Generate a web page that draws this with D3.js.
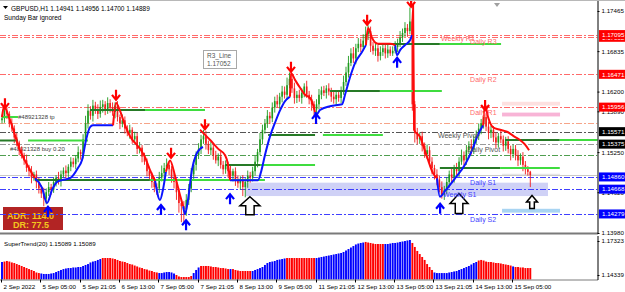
<!DOCTYPE html>
<html>
<head>
<meta charset="utf-8">
<script src="https://cdn.jsdelivr.net/npm/d3@7"></script>
<style>
  body { margin: 0; background: #fff; }
  svg { display: block; font-family: "Liberation Sans", Arial, sans-serif; }
</style>
</head>
<body>
<div id="chart"></div>
<script>
// GBPUSD H1 closes, one per bar (open = previous close)
const closes = [
  1.1578, 1.1590, 1.1585, 1.1570, 1.1562, 1.1548, 1.1540, 1.1528, 1.1520, 1.1512,
  1.1500, 1.1495, 1.1485, 1.1490, 1.1478, 1.1468, 1.1460, 1.1452, 1.1462, 1.1470,
  1.1466, 1.1478, 1.1485, 1.1480, 1.1490, 1.1496, 1.1492, 1.1502, 1.1510, 1.1506,
  1.1515, 1.1525, 1.1522, 1.1545, 1.1570, 1.1590, 1.1582, 1.1598, 1.1592, 1.1585,
  1.1596, 1.1600, 1.1590, 1.1602, 1.1595, 1.1588, 1.1598, 1.1580, 1.1570, 1.1575,
  1.1562, 1.1555, 1.1560, 1.1545, 1.1550, 1.1530, 1.1532, 1.1518, 1.1510, 1.1495,
  1.1488, 1.1478, 1.1470, 1.1468, 1.1485, 1.1492, 1.1500, 1.1505, 1.1498, 1.1485,
  1.1478, 1.1462, 1.1445, 1.1440, 1.1435, 1.1450, 1.1468, 1.1490, 1.1505, 1.1520,
  1.1530, 1.1545, 1.1550, 1.1538, 1.1528, 1.1532, 1.1520, 1.1512, 1.1518, 1.1505,
  1.1498, 1.1505, 1.1495, 1.1488, 1.1495, 1.1480, 1.1476, 1.1482, 1.1470, 1.1478,
  1.1488, 1.1485, 1.1495, 1.1510, 1.1525, 1.1545, 1.1560, 1.1570, 1.1582, 1.1578,
  1.1595, 1.1605, 1.1600, 1.1612, 1.1620, 1.1615, 1.1630, 1.1640, 1.1625, 1.1610,
  1.1615, 1.1610, 1.1618, 1.1628, 1.1615, 1.1608, 1.1600, 1.1592, 1.1600, 1.1615,
  1.1622, 1.1618, 1.1625, 1.1620, 1.1612, 1.1608, 1.1615, 1.1610, 1.1620, 1.1635,
  1.1650, 1.1665, 1.1680, 1.1672, 1.1688, 1.1695, 1.1690, 1.1700, 1.1710, 1.1715,
  1.1692, 1.1684, 1.1688, 1.1676, 1.1682, 1.1688, 1.1680, 1.1686, 1.1680, 1.1684,
  1.1690, 1.1695, 1.1705, 1.1712, 1.1720, 1.1715, 1.1730, 1.1600, 1.1555, 1.1545,
  1.1550, 1.1535, 1.1522, 1.1528, 1.1510, 1.1500, 1.1490, 1.1482, 1.1470, 1.1458,
  1.1465, 1.1478, 1.1490, 1.1485, 1.1500, 1.1495, 1.1510, 1.1520, 1.1512, 1.1528,
  1.1535, 1.1530, 1.1545, 1.1550, 1.1562, 1.1570, 1.1580, 1.1565, 1.1555, 1.1560,
  1.1548, 1.1540, 1.1550, 1.1545, 1.1535, 1.1542, 1.1530, 1.1522, 1.1530, 1.1520,
  1.1512, 1.1518, 1.1505, 1.1498, 1.14941, 1.14889
];
const firstOpen = 1.1575;

// wick lengths in pips above / below the body
const upWick = [
  6,3,5,4,8,5,7,3,6,4,9,5,8,4,6,7,5,9,6,8,
  5,7,4,9,6,5,8,4,7,6,5,9,4,8,12,10,7,9,6,8,
  10,7,5,9,6,8,5,7,4,9,6,5,8,4,7,5,9,4,6,5,
  7,5,8,6,9,12,8,10,6,5,7,4,6,5,8,9,7,10,8,6,
  9,7,10,8,5,9,6,7,5,8,6,7,5,9,4,6,8,5,7,6,
  8,6,7,9,5,10,8,7,9,6,8,7,10,6,9,8,12,10,7,9,
  6,8,7,5,9,6,7,5,8,9,6,7,5,8,6,9,5,7,8,10,
  9,11,8,10,7,9,8,10,12,9,7,6,8,5,9,7,6,8,5,7,
  9,8,10,7,9,6,22,4,5,8,6,7,5,9,6,7,5,8,6,9,
  7,8,6,9,5,8,7,9,6,8,7,10,6,9,8,7,10,6,8,7,
  6,8,5,9,6,7,8,5,7,6,8,5,7,6,5,1.5
];
const downWick = [
  5,7,8,6,5,9,6,8,5,7,6,8,9,5,10,8,7,12,9,6,
  8,5,7,6,9,5,8,6,7,5,8,6,9,7,5,8,6,9,7,8,
  6,9,7,5,8,6,10,7,9,6,8,5,9,7,6,8,7,9,5,8,
  6,9,8,10,7,6,8,5,9,8,10,12,15,25,20,10,8,6,7,9,
  6,8,7,9,6,8,7,5,9,6,8,7,10,6,9,8,7,10,14,16,
  9,8,6,7,9,5,8,6,7,9,6,8,5,7,9,6,8,5,7,9,
  8,6,9,7,5,8,10,12,6,8,7,5,9,6,8,7,9,6,8,5,
  6,8,5,7,9,6,8,5,7,9,10,6,8,9,7,6,8,7,4,4,
  4,8,5,7,6,9,5,10,15,8,7,9,6,8,7,10,8,9,8,6,
  8,6,9,7,8,6,9,5,8,7,6,9,8,7,6,9,8,7,10,8,
  7,9,8,6,9,8,7,10,6,8,9,7,10,8,6,18.9
];

// trend line, [bar index, price] vertices
const redSegments = [
  [[0,1.1580],[0.8,1.1596],[3,1.1578],[7.3,1.1528],[11.4,1.1497],[13.4,1.1484]],
  [[45.2,1.1567],[46.4,1.1602],[48,1.1590],[50.1,1.1567],[52.1,1.1550],[56.2,1.1530],[58.2,1.1517],[60.2,1.1497],[62.3,1.1480]],
  [[66.7,1.1494],[68.4,1.1512],[70.4,1.1488],[72.4,1.1458],[73.7,1.1440]],
  [[80.6,1.1560],[84.7,1.1544],[88,1.1530],[90.8,1.1520],[92,1.1505],[92.8,1.1481]],
  [[117.2,1.1612],[117.6,1.1649],[119.3,1.1638],[121.3,1.1626],[123.3,1.1615],[125.4,1.1610],[126.6,1.1599],[127.4,1.1588]],
  [[148.1,1.1693],[149,1.1720],[150.6,1.1704],[153,1.1695],[157.9,1.1695],[160,1.1693]],
  [[166.9,1.1709],[167.3,1.1755],[167.7,1.1560],[170.1,1.1549],[173,1.1517],[175.4,1.1492],[177,1.1484]],
  [[195.8,1.1567],[196.6,1.1599],[197.8,1.1580],[199.8,1.1564],[202.7,1.1560],[205.5,1.1557],[208.7,1.1549],[210.8,1.1544],[212.8,1.1537],[214.5,1.1528]]
];
const blueSegments = [
  [[13.4,1.1484],[16.3,1.1469],[18.3,1.1445],[20.4,1.1466],[22.4,1.1478],[24.4,1.1481],[27.7,1.1484],[30.9,1.1500],[32.6,1.1513],[34.2,1.1544],[35.8,1.1564],[37,1.1567],[45.2,1.1567]],
  [[62.3,1.1480],[64.3,1.1450],[65.5,1.1466],[66.7,1.1494]],
  [[73.7,1.1440],[74.5,1.1428],[75.7,1.1450],[77.3,1.1497],[79,1.1521],[80.6,1.1530],[81.8,1.1533]],
  [[92.8,1.1481],[104.2,1.1481],[105.5,1.1495],[107,1.1520],[109.1,1.1550],[111,1.1570],[113.1,1.1590],[115.2,1.1605],[117.2,1.1612]],
  [[127.4,1.1588],[127.8,1.1583],[129.4,1.1591],[133.5,1.1597],[138.4,1.1600],[139.6,1.1615],[141.6,1.1642],[143.7,1.1665],[146.5,1.1682],[148.1,1.1693]],
  [[160,1.1693],[160.8,1.1677],[162,1.1685],[164,1.1693],[166.1,1.1701],[166.9,1.1709]],
  [[177,1.1484],[178.2,1.1455],[180.3,1.1464],[184.4,1.1484],[188.4,1.1505],[191.3,1.1528],[193.7,1.1552],[195.8,1.1567]]
];

// signal arrows: [bar index, price at the tip]
const sellArrows = [[1.2,1.1594],[46.4,1.1607],[68.8,1.1516],[82.6,1.1561],[117.6,1.1651],[148.6,1.1725],[166.5,1.1753],[196.6,1.1591]];
const buyArrows = [[18.7,1.1439],[64.7,1.1442],[74.9,1.1418],[92.8,1.1459],[127.8,1.1585],[160.8,1.1673],[178.3,1.1444]];
const bigArrows = [[100.9,1.1455],[186,1.1460],[215.7,1.1457]];

// horizontal pivot / order levels
const levelValues = [1.17095, 1.17052, 1.16471, 1.15956, 1.15710, 1.15571, 1.15375, 1.15200, 1.14860, 1.14668, 1.14279];
const levelKinds = ["res", "res", "res", "res", "tp", "wpivot", "dpivot", "buy", "sup", "sup", "sup"];
const bidPrice = 1.14889;

// green range segments: price, dark part [from, to], bright part [from, to] in bars
const rangePrices = [1.16947, 1.16211, 1.15911, 1.15432, 1.14812, 1.15047, 1.15518, 1.15440, 1.15000, 1.15801];
const rangeDark = [[153,178.2],[133.5,153.8],[35.8,58.2],[-1,6.5],[13.4,60.2],[90.8,105],[108.3,127.4],[204.7,227],[178.2,202.7],null];
const rangeBright = [[178.2,203.1],[153.8,179],[58.2,82.6],[10.6,35],[60.2,107],[105,127.4],[130.6,155],[227,243],[202.7,227],[0,6.5]];

// shaded zones: [from bar, to bar, top price, bottom price]
const zoneNames = ["s1band", "r1light", "r1pink", "s2light", "pivgray"];
const zoneValues = [
  [98.9, 222.2, 1.1477, 1.1456],
  [203.5, 227.1, 1.1604, 1.1598],
  [203.5, 227.1, 1.1587, 1.1581],
  [203.5, 227.1, 1.1436, 1.1430],
  [203.5, 227.1, 1.1491, 1.1488]
];

// pivot text labels: [text, bar index, baseline price]
const pivotLabels = [
  ["Weekly R1", 178.7, 1.16994, "res"],
  ["Daily R3", 190.5, 1.16947, "res"],
  ["Daily R2", 190.5, 1.16350, "res"],
  ["Daily R1", 190.5, 1.15832, "res"],
  ["Weekly Pivot", 177.4, 1.15471, "piv"],
  ["Daily Pivot", 189.3, 1.15251, "piv"],
  ["Daily S1", 190.5, 1.14733, "sup"],
  ["Weekly S1", 179.5, 1.14545, "sup"],
  ["Daily S2", 190.5, 1.14153, "sup"]
];

// right price scale (labels hidden under the level tags are left out)
const priceTicks = [1.17465, 1.16835, 1.16200, 1.15890, 1.15250, 1.14620, 1.13980];
const priceTags = [1.17052, 1.17095, 1.16471, 1.15956, 1.15571, 1.15375, 1.14860, 1.14668, 1.14279];
const priceTagKinds = ["res", "res", "res", "res", "piv", "piv", "sup", "sup", "sup"];

// SuperTrend(20) sub window histogram
const stValues = [
  1.1548, 1.1552, 1.1557, 1.1552, 1.1544, 1.1539, 1.1530, 1.1522, 1.1513, 1.1504,
  1.1495, 1.1486, 1.1478, 1.1469, 1.1456, 1.1451, 1.1447, 1.1443, 1.1443, 1.1443,
  1.1447, 1.1451, 1.1460, 1.1469, 1.1478, 1.1486, 1.1491, 1.1495, 1.1495, 1.1500,
  1.1500, 1.1504, 1.1504, 1.1513, 1.1522, 1.1530, 1.1544, 1.1552, 1.1557, 1.1566,
  1.1574, 1.1583, 1.1583, 1.1583, 1.1583, 1.1579, 1.1574, 1.1566, 1.1557, 1.1552,
  1.1548, 1.1539, 1.1530, 1.1526, 1.1517, 1.1509, 1.1500, 1.1495, 1.1486, 1.1482,
  1.1473, 1.1469, 1.1460, 1.1456, 1.1451, 1.1451, 1.1456, 1.1460, 1.1460, 1.1456,
  1.1447, 1.1434, 1.1421, 1.1416, 1.1416, 1.1416, 1.1416, 1.1425, 1.1451, 1.1478,
  1.1500, 1.1513, 1.1513, 1.1513, 1.1513, 1.1509, 1.1504, 1.1504, 1.1500, 1.1495,
  1.1495, 1.1491, 1.1486, 1.1486, 1.1486, 1.1478, 1.1473, 1.1469, 1.1469, 1.1469,
  1.1469, 1.1469, 1.1469, 1.1478, 1.1486, 1.1495, 1.1504, 1.1522, 1.1539, 1.1548,
  1.1552, 1.1557, 1.1566, 1.1570, 1.1574, 1.1579, 1.1583, 1.1583, 1.1583, 1.1583,
  1.1583, 1.1583, 1.1583, 1.1583, 1.1583, 1.1583, 1.1583, 1.1583, 1.1583, 1.1587,
  1.1592, 1.1596, 1.1601, 1.1605, 1.1609, 1.1614, 1.1618, 1.1623, 1.1627, 1.1636,
  1.1649, 1.1662, 1.1675, 1.1688, 1.1702, 1.1710, 1.1715, 1.1719, 1.1724, 1.1719,
  1.1715, 1.1710, 1.1706, 1.1706, 1.1706, 1.1706, 1.1706, 1.1706, 1.1710, 1.1715,
  1.1715, 1.1719, 1.1724, 1.1728, 1.1732, 1.1737, 1.1741, 1.1715, 1.1680, 1.1645,
  1.1618, 1.1592, 1.1566, 1.1530, 1.1504, 1.1478, 1.1456, 1.1451, 1.1451, 1.1451,
  1.1451, 1.1451, 1.1456, 1.1460, 1.1465, 1.1469, 1.1478, 1.1486, 1.1495, 1.1504,
  1.1513, 1.1526, 1.1539, 1.1548, 1.1561, 1.1566, 1.1561, 1.1552, 1.1548, 1.1548,
  1.1544, 1.1539, 1.1539, 1.1535, 1.1530, 1.1526, 1.1522, 1.1517, 1.1509, 1.1504,
  1.1504, 1.1500, 1.1500, 1.1495, 1.1495, 1.1495
];
// colour runs: [first bar, "up" | "down"]
const stRuns = [[0,"up"],[1,"down"],[16,"up"],[41,"down"],[64,"up"],[71,"down"],[78,"up"],[81,"down"],[93,"up"],[94,"down"],
  [102,"up"],[116,"down"],[128,"up"],[148,"down"],[156,"up"],[167,"down"],[176,"up"],[194,"down"],[208,"up"],[209,"down"]];
const stTicks = [1.17323, 1.14339];

const timeLabels = ["2 Sep 2022", "5 Sep 05:00", "5 Sep 21:05", "6 Sep 13:00", "7 Sep 05:00", "7 Sep 21:05", "8 Sep 13:00",
  "9 Sep 05:00", "11 Sep 21:05", "12 Sep 13:00", "13 Sep 05:00", "13 Sep 21:05", "14 Sep 13:00", "15 Sep 05:00"];
const barsPerLabel = 16;

class PriceChart {
    constructor(_config) {
        this.config = _config;
        this.InitVis();
    }

    InitVis() {
        const vis = this;

        vis.config.width = 625;
        vis.config.height = 292;
        vis.config.axisX = 597.5;
        vis.config.mainBottom = 233;
        vis.config.subBottom = 279.5;

        vis.svg = d3.select(vis.config.parentElement)
            .append("svg")
            .attr("width", vis.config.width)
            .attr("height", vis.config.height);

        vis.x = d3.scaleLinear().domain([0, 215]).range([2, 530.3]);
        vis.y = d3.scaleLinear().domain([1.13980, 1.17465]).range([233, 11]);
        vis.ySub = d3.scaleLinear().domain([1.14339, 1.17323]).range([275, 241]);

        vis.bars = closes.map((c, i) => {
            const o = i === 0 ? firstOpen : closes[i - 1];
            return {
                i: i,
                open: o,
                close: c,
                high: Math.max(o, c) + upWick[i] * 0.0001,
                low: Math.min(o, c) - downWick[i] * 0.0001
            };
        });

        vis.UpdateVis();
    }

    UpdateVis() {
        const vis = this;
        const x = vis.x, y = vis.y;

        const main = vis.svg.append("g");
        main.append("defs").append("clipPath").attr("id", "mainClip")
            .append("rect").attr("x", 0).attr("y", 1).attr("width", vis.config.axisX).attr("height", 231);
        const plot = main.append("g").attr("clip-path", "url(#mainClip)");

        // shaded zones
        const zoneFill = { s1band: "#cfd1f6", r1light: "#fde0e0", r1pink: "#f8b4d6", s2light: "#a8d4f2", pivgray: "#e6e6e6" };
        plot.selectAll(".zone").data(zoneValues).enter().append("rect")
            .attr("x", d => x(d[0]))
            .attr("width", d => x(d[1]) - x(d[0]))
            .attr("y", d => y(d[2]))
            .attr("height", d => y(d[3]) - y(d[2]))
            .attr("fill", (d, i) => zoneFill[zoneNames[i]]);

        // ADR box sits under the level lines
        const adr = plot.append("g");
        adr.append("rect").attr("x", 3).attr("y", 207).attr("width", 60).attr("height", 23).attr("fill", "#b22424");
        adr.append("text").attr("x", 7).attr("y", 219).text("ADR: 114.0")
            .attr("fill", "#f2c81e").attr("font-size", 9).attr("font-weight", "bold");
        adr.append("text").attr("x", 13).attr("y", 228).text("DR: 77.5")
            .attr("fill", "#f2c81e").attr("font-size", 9).attr("font-weight", "bold");

        // level lines
        const levelColor = { res: "#ff6a6a", tp: "#f6a488", wpivot: "#555555", dpivot: "#9a9a9a", buy: "#4f9e4f", sup: "#3f3fff" };
        plot.selectAll(".level").data(levelValues).enter().append("line")
            .attr("x1", 0).attr("x2", vis.config.axisX)
            .attr("y1", d => Math.round(y(d)) + 0.5).attr("y2", d => Math.round(y(d)) + 0.5)
            .attr("stroke", (d, i) => levelColor[levelKinds[i]])
            .attr("stroke-width", 1)
            .attr("stroke-dasharray", "6,2,2,2");
        plot.append("line")
            .attr("x1", 0).attr("x2", vis.config.axisX)
            .attr("y1", Math.round(y(bidPrice)) + 0.5).attr("y2", Math.round(y(bidPrice)) + 0.5)
            .attr("stroke", "#c8c8c8");

        // order labels
        plot.append("text").attr("x", 18).attr("y", y(1.15801) + 2.5).text("#48921328 tp")
            .attr("font-size", 6).attr("fill", "#404040");
        plot.append("text").attr("x", 10).attr("y", y(1.15251) - 1).text("#48921328 buy 0.20")
            .attr("font-size", 6).attr("fill", "#404040");

        // candles
        const upCol = "#1f9a1f", downCol = "#f21c1c";
        const candle = plot.selectAll(".candle").data(vis.bars).enter().append("g");
        candle.append("line")
            .attr("x1", d => x(d.i)).attr("x2", d => x(d.i))
            .attr("y1", d => y(d.high)).attr("y2", d => y(d.low))
            .attr("stroke", d => d.close >= d.open ? upCol : downCol)
            .attr("stroke-width", 0.9);
        candle.append("rect")
            .attr("x", d => x(d.i) - 0.8)
            .attr("width", 1.6)
            .attr("y", d => y(Math.max(d.open, d.close)))
            .attr("height", d => Math.max(0.8, Math.abs(y(d.open) - y(d.close))))
            .attr("fill", d => d.close >= d.open ? upCol : downCol);

        // green range segments
        const segG = plot.append("g");
        rangePrices.forEach((p, k) => {
            if (rangeDark[k]) {
                segG.append("line").attr("x1", x(rangeDark[k][0])).attr("x2", x(rangeDark[k][1]))
                    .attr("y1", y(p)).attr("y2", y(p)).attr("stroke", "#267a26").attr("stroke-width", 2);
            }
            segG.append("line").attr("x1", x(rangeBright[k][0])).attr("x2", x(rangeBright[k][1]))
                .attr("y1", y(p)).attr("y2", y(p)).attr("stroke", "#3fdc3f").attr("stroke-width", 2);
        });

        // trend line
        const trend = d3.line().x(d => x(d[0])).y(d => y(d[1])).curve(d3.curveMonotoneX);
        plot.selectAll(".blueSeg").data(blueSegments).enter().append("path")
            .attr("d", trend).attr("fill", "none").attr("stroke", "#0a14ff").attr("stroke-width", 2);
        plot.selectAll(".redSeg").data(redSegments).enter().append("path")
            .attr("d", trend).attr("fill", "none").attr("stroke", "#ff0a0a").attr("stroke-width", 2);

        // arrows
        plot.selectAll(".sell").data(sellArrows).enter().append("path")
            .attr("d", d => {
                const cx = x(d[0]), t = y(d[1]);
                return `M${cx},${t - 10}L${cx},${t}M${cx - 4},${t - 5}L${cx},${t}L${cx + 4},${t - 5}`;
            })
            .attr("fill", "none").attr("stroke", "#ff0000").attr("stroke-width", 2.2);
        plot.selectAll(".buy").data(buyArrows).enter().append("path")
            .attr("d", d => {
                const cx = x(d[0]), t = y(d[1]);
                return `M${cx},${t + 10}L${cx},${t}M${cx - 4},${t + 5}L${cx},${t}L${cx + 4},${t + 5}`;
            })
            .attr("fill", "none").attr("stroke", "#0000ff").attr("stroke-width", 2.2);
        const bigSize = [[20, 18], [18, 20], [11, 13]];
        plot.selectAll(".big").data(bigArrows).enter().append("path")
            .attr("d", (d, k) => {
                const cx = x(d[0]), t = y(d[1]);
                const w = bigSize[k][0] / 2, h = bigSize[k][1], hh = h * 0.5, sw = w * 0.42;
                return `M${cx},${t}L${cx + w},${t + hh}L${cx + sw},${t + hh}L${cx + sw},${t + h}` +
                    `L${cx - sw},${t + h}L${cx - sw},${t + hh}L${cx - w},${t + hh}Z`;
            })
            .attr("fill", "#fff").attr("stroke", "#000").attr("stroke-width", 1.5);

        // pivot labels
        const labelColor = { res: "#ff6a6a", piv: "#555555", sup: "#3f3fff" };
        plot.selectAll(".plabel").data(pivotLabels).enter().append("text")
            .attr("x", d => x(d[1])).attr("y", d => y(d[2]))
            .text(d => d[0])
            .attr("font-size", 7)
            .attr("fill", d => labelColor[d[3]]);

        // R3 line tooltip box
        const tip = plot.append("g");
        tip.append("rect").attr("x", 203.5).attr("y", 50.5).attr("width", 33).attr("height", 18)
            .attr("fill", "#fff").attr("stroke", "#a8a8a8");
        tip.append("text").attr("x", 207).attr("y", 58).text("R3_Line").attr("font-size", 6.5).attr("fill", "#555");
        tip.append("text").attr("x", 207).attr("y", 66).text("1.17052").attr("font-size", 6.5).attr("fill", "#555");

        // small shift marker at the top
        plot.append("path").attr("d", "M494,3L500,3L497,7Z").attr("fill", "#a0a0a0");

        // header text
        main.append("path").attr("d", "M3,6L8,6L5.5,9Z").attr("fill", "#000");
        main.append("text").attr("x", 11).attr("y", 11).text("GBPUSD,H1  1.14941 1.14956 1.14700 1.14889")
            .attr("font-size", 6.5).attr("fill", "#000");
        main.append("text").attr("x", 4).attr("y", 20).text("Sunday Bar ignored")
            .attr("font-size", 6.5).attr("fill", "#000");

        // frame
        main.append("line").attr("x1", 0).attr("x2", 625).attr("y1", 0.5).attr("y2", 0.5).attr("stroke", "#b8b8b8");
        main.append("line").attr("x1", 0).attr("x2", vis.config.axisX + 0.5).attr("y1", 233.5).attr("y2", 233.5)
            .attr("stroke", "#7a7a7a").attr("stroke-width", 2);

        // right price axis
        const yAxis = d3.axisRight(y).tickValues(priceTicks).tickFormat(d3.format(".5f")).tickSize(2).tickPadding(2);
        const axisG = main.append("g").attr("transform", `translate(${vis.config.axisX},0)`).call(yAxis);
        axisG.select(".domain").attr("d", "M0.5,1V233.5");
        axisG.selectAll("text").attr("font-size", 6.2).attr("fill", "#000").attr("font-family", "Liberation Sans, Arial");

        const tagColor = { res: "#ff0000", piv: "#000000", sup: "#0000ff" };
        const tags = main.selectAll(".tag").data(priceTags).enter().append("g")
            .attr("transform", d => `translate(${vis.config.axisX + 1.5},${y(d)})`);
        tags.append("rect").attr("x", 0).attr("y", -4.5).attr("width", 27).attr("height", 9)
            .attr("fill", (d, i) => tagColor[priceTagKinds[i]]);
        tags.append("text").attr("x", 3).attr("y", 2.3).text(d => d3.format(".5f")(d))
            .attr("font-size", 6.2).attr("fill", "#fff");

        // sub window
        const sub = vis.svg.append("g");
        sub.append("text").attr("x", 4).attr("y", 246).text("SuperTrend(20) 1.15089 1.15089")
            .attr("font-size", 6.2).attr("fill", "#000");
        const runColor = i => {
            let c = stRuns[0][1];
            stRuns.forEach(r => { if (r[0] <= i) c = r[1]; });
            return c === "up" ? "#0000ff" : "#ff0000";
        };
        sub.selectAll(".st").data(stValues).enter().append("rect")
            .attr("x", (d, i) => x(i) - 0.95)
            .attr("width", 1.9)
            .attr("y", d => vis.ySub(d))
            .attr("height", d => vis.config.subBottom - vis.ySub(d))
            .attr("fill", (d, i) => runColor(i));

        sub.append("line").attr("x1", 0).attr("x2", vis.config.axisX + 0.5)
            .attr("y1", vis.config.subBottom + 0.5).attr("y2", vis.config.subBottom + 0.5).attr("stroke", "#7a7a7a");
        const subAxis = d3.axisRight(vis.ySub).tickValues(stTicks).tickFormat(d3.format(".5f")).tickSize(2).tickPadding(2);
        const subAxisG = sub.append("g").attr("transform", `translate(${vis.config.axisX},0)`).call(subAxis);
        subAxisG.select(".domain").attr("d", "M0.5,236V280");
        subAxisG.selectAll("text").attr("font-size", 6.2).attr("fill", "#000").attr("font-family", "Liberation Sans, Arial");

        // time axis
        const timeG = sub.selectAll(".time").data(timeLabels).enter().append("g")
            .attr("transform", (d, k) => `translate(${Math.round(x(k * barsPerLabel)) - 0.5},${vis.config.subBottom})`);
        timeG.append("line").attr("x1", 0).attr("x2", 0).attr("y1", 0).attr("y2", 3).attr("stroke", "#000");
        timeG.append("text").attr("x", 2).attr("y", 9).text(d => d).attr("font-size", 6.2).attr("fill", "#000");
    }
}

const chart = new PriceChart({ parentElement: "#chart" });
</script>
</body>
</html>
